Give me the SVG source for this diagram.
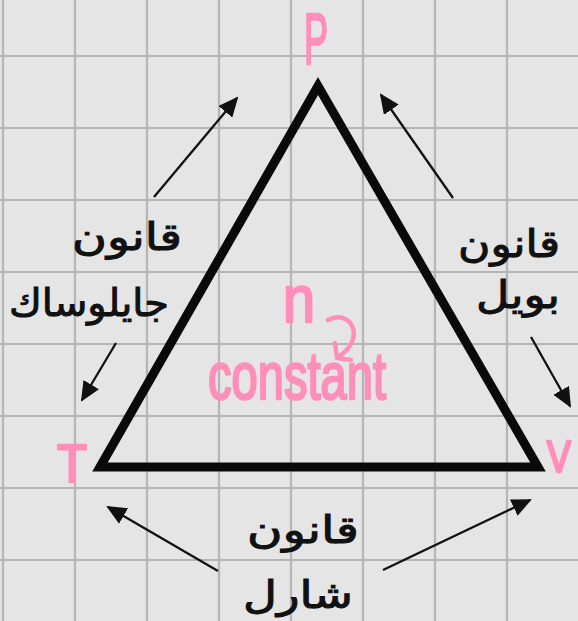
<svg xmlns="http://www.w3.org/2000/svg" width="578" height="621" viewBox="0 0 578 621">
<defs>
<style>
.grid line{stroke:#b4b4b4;stroke-width:2.2}
.pink{fill:#ff8fba;stroke:#ff8fba;stroke-width:2.6;stroke-linejoin:round;font-family:"Liberation Sans",Arial,sans-serif}
.ar{fill:#111;stroke:#111;stroke-width:1;font-family:"DejaVu Sans",sans-serif;font-size:38px;text-anchor:middle}
.conn line{stroke:#111;stroke-width:2.3;marker-end:url(#ah)}
</style>
<marker id="ah" markerUnits="userSpaceOnUse" markerWidth="20" markerHeight="18" viewBox="0 0 20 18" refX="18" refY="9" orient="auto">
<path d="M0,0 L20,9 L0,18 Z" fill="#111"/>
</marker>
</defs>
<rect width="578" height="621" fill="#e5e5e5"/>
<g class="grid">
<line x1="3" y1="0" x2="3" y2="621"/><line x1="75" y1="0" x2="75" y2="621"/><line x1="147" y1="0" x2="147" y2="621"/><line x1="219" y1="0" x2="219" y2="621"/><line x1="291" y1="0" x2="291" y2="621"/><line x1="363" y1="0" x2="363" y2="621"/><line x1="435" y1="0" x2="435" y2="621"/><line x1="507" y1="0" x2="507" y2="621"/>
<line x1="0" y1="56" x2="578" y2="56"/><line x1="0" y1="128" x2="578" y2="128"/><line x1="0" y1="200" x2="578" y2="200"/><line x1="0" y1="272" x2="578" y2="272"/><line x1="0" y1="344" x2="578" y2="344"/><line x1="0" y1="416" x2="578" y2="416"/><line x1="0" y1="488" x2="578" y2="488"/><line x1="0" y1="560" x2="578" y2="560"/>
</g>
<g id="triangle">
<polygon points="318,86 100,467 538,467" fill="none" stroke="#0a0a0a" stroke-width="9" stroke-linejoin="miter" stroke-miterlimit="10"/>
</g>
<g id="P"><text class="pink" x="316" y="64" font-size="72" text-anchor="middle" textLength="24" lengthAdjust="spacingAndGlyphs">P</text></g>
<g id="T"><text class="pink" x="72" y="482" font-size="54" text-anchor="middle" textLength="30" lengthAdjust="spacingAndGlyphs">T</text></g>
<g id="V"><text class="pink" x="559" y="472" font-size="44" text-anchor="middle" textLength="24" lengthAdjust="spacingAndGlyphs">V</text></g>
<g id="n-constant">
<text class="pink" x="299" y="322" font-size="66" text-anchor="middle" textLength="32" lengthAdjust="spacingAndGlyphs">n</text>
<text class="pink" x="297" y="399" font-size="66" text-anchor="middle" textLength="178" lengthAdjust="spacingAndGlyphs">constant</text>
<path d="M328,320 C350,308 368,338 338,357 M335,343 L337,358 L351,360" fill="none" stroke="#ff8fba" stroke-width="4.5" stroke-linecap="round" stroke-linejoin="round"/>
</g>
<g id="gay-lussac">
<text class="ar" x="127" y="250" textLength="110" lengthAdjust="spacingAndGlyphs">قانون</text>
<text class="ar" x="89" y="316" textLength="160" lengthAdjust="spacingAndGlyphs">جايلوساك</text>
</g>
<g id="boyle">
<text class="ar" x="509" y="257" textLength="102" lengthAdjust="spacingAndGlyphs">قانون</text>
<text class="ar" x="518" y="308" textLength="84" lengthAdjust="spacingAndGlyphs">بويل</text>
</g>
<g id="charles">
<text class="ar" x="303" y="543" textLength="112" lengthAdjust="spacingAndGlyphs">قانون</text>
<text class="ar" x="298" y="608" textLength="110" lengthAdjust="spacingAndGlyphs">شارل</text>
</g>
<g class="conn" id="connectors">
<line x1="154" y1="197" x2="237" y2="98"/>
<line x1="453" y1="198" x2="381" y2="95"/>
<line x1="116" y1="343" x2="82" y2="400"/>
<line x1="531" y1="337" x2="570" y2="406"/>
<line x1="218" y1="571" x2="108" y2="507"/>
<line x1="383" y1="570" x2="530" y2="500"/>
</g>
</svg>
